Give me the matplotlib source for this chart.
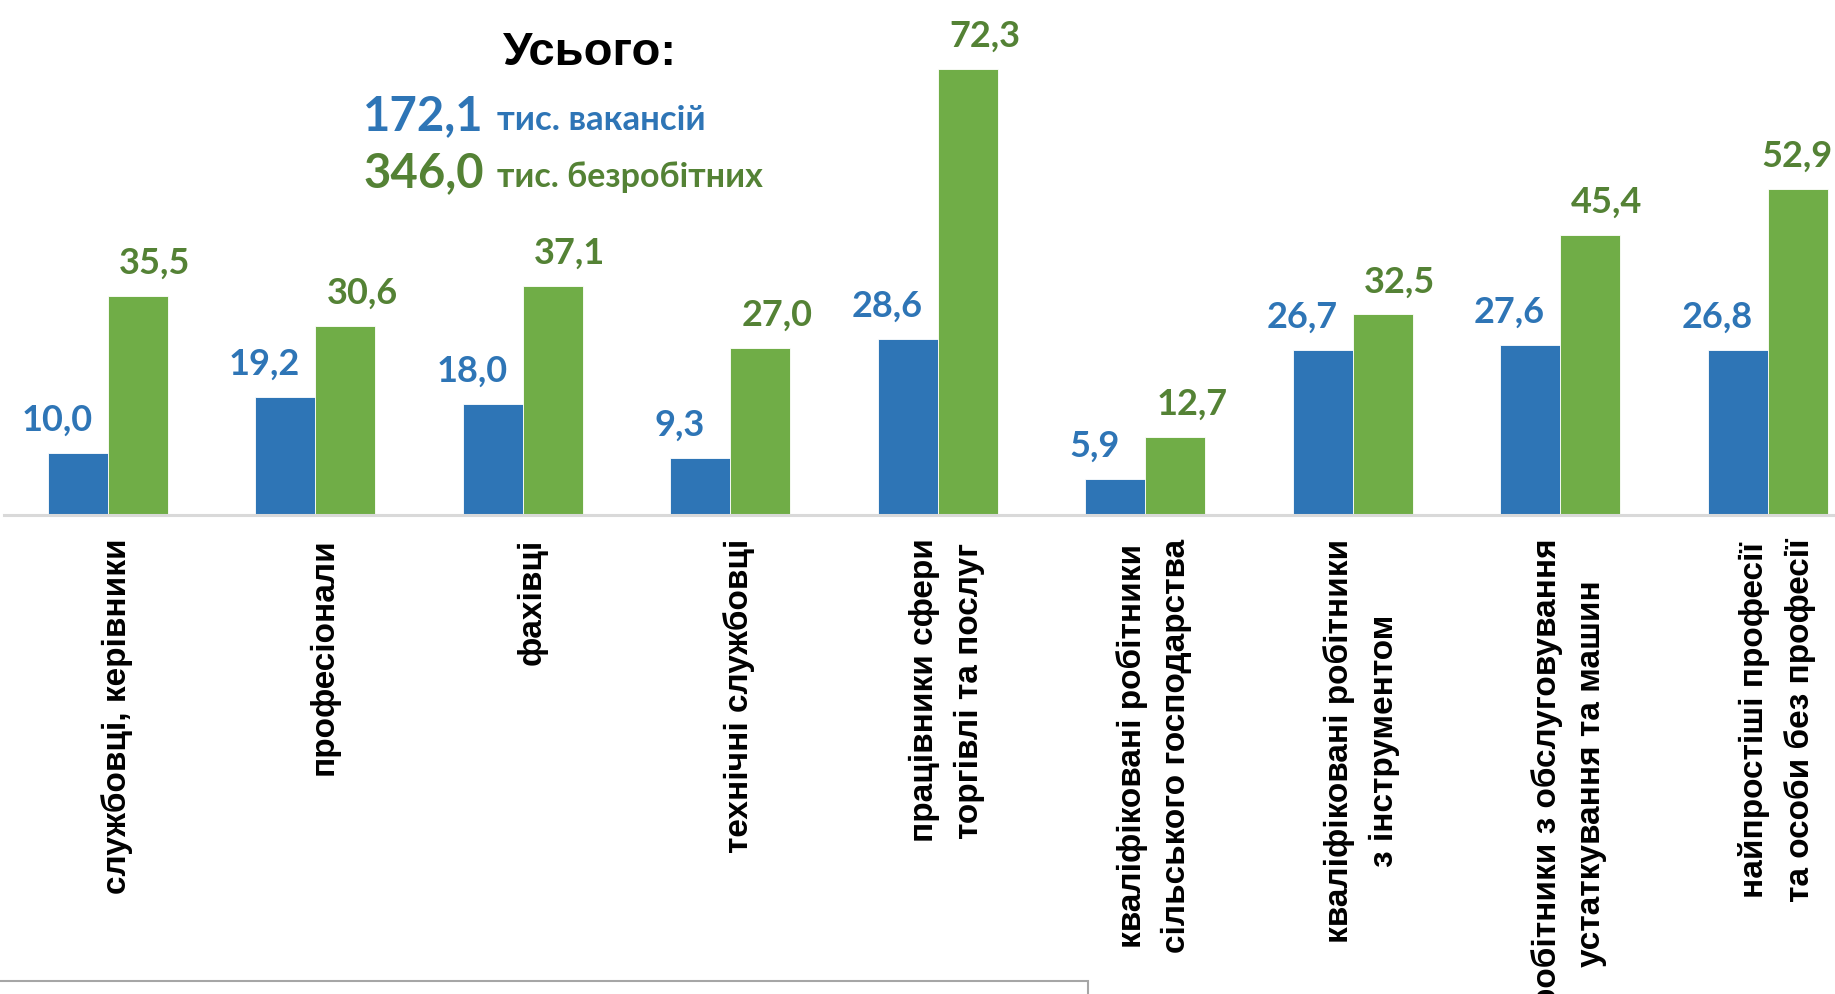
import matplotlib.pyplot as plt
import matplotlib.transforms as mtransforms
import numpy as np
from matplotlib.patches import Rectangle

# categories (professional groups) and values, thousand persons
categories = ["службовці, керівники", "професіонали", "фахівці", "технічні службовці",
              "працівники сфери\nторгівлі та послуг",
              "кваліфіковані робітники\nсільського господарства",
              "кваліфіковані робітники\nз інструментом",
              "робітники з обслуговування\nустаткування та машин",
              "найпростіші професії\nта особи без професії"]
vacancies = [10.0, 19.2, 18.0, 9.3, 28.6, 5.9, 26.7, 27.6, 26.8]
unemployed = [35.5, 30.6, 37.1, 27.0, 72.3, 12.7, 32.5, 45.4, 52.9]
total_title = "Усього:"
total_vac = "172,1"
total_unemp = "346,0"
vac_text = "тис. вакансій"
unemp_text = "тис. безробітних"

blue = "#2E75B6"
green = "#70AD47"
green_txt = "#548235"
num_font = ["Lato", "Noto Sans", "DejaVu Sans"]
lab_font = ["Liberation Sans", "DejaVu Sans"]

W, H = 1835, 994
fig = plt.figure(figsize=(W / 100, H / 100), dpi=100)
ax = fig.add_axes([4 / W, (H - 515) / H, 9 * 207.5 / W, 80 * 6.17 / H])

x = np.arange(len(categories))
w = 0.29
ax.bar(x - w / 2, vacancies, w, color=blue, edgecolor="white", linewidth=0.6)
ax.bar(x + w / 2, unemployed, w, color=green, edgecolor="white", linewidth=0.6)

ax.set_xlim(-0.5, len(categories) - 0.5)
ax.set_ylim(0, 80)
ax.set_yticks([])
for s in ["top", "left", "right"]:
    ax.spines[s].set_visible(False)
ax.spines["bottom"].set_color("#d9d9d9")
ax.spines["bottom"].set_linewidth(2.2)

ax.set_xticks(x)
ax.set_xticklabels(categories, rotation=90, fontsize=24, fontweight="bold",
                   family=lab_font, linespacing=1.55)
ax.tick_params(axis="x", length=0, pad=17)
# nudge the rotated labels a little to the right
shift = mtransforms.ScaledTranslation(9 / 100, 0, fig.dpi_scale_trans)
for lab in ax.get_xticklabels():
    lab.set_multialignment("center")
    lab.set_transform(lab.get_transform() + shift)


def fmt(v):
    return f"{v:.1f}".replace(".", ",")


labels = []
for xi, v in zip(x, vacancies):
    labels.append(ax.annotate(fmt(v), (xi - w / 2, v), xytext=(-15, 16),
                              textcoords="offset points", ha="center", va="baseline",
                              fontsize=26, fontweight="bold", color=blue, family=num_font))
for xi, v in zip(x, unemployed):
    labels.append(ax.annotate(fmt(v), (xi + w / 2, v), xytext=(12, 16),
                              textcoords="offset points", ha="center", va="baseline",
                              fontsize=26, fontweight="bold", color=green_txt,
                              family=num_font, annotation_clip=False))

# header with totals
fig.text(590 / W, 1 - 65 / H, total_title, ha="center", va="baseline", fontsize=34,
         fontweight="bold", family=lab_font, color="black")
fig.text(363 / W, 1 - 130 / H, total_vac, ha="left", va="baseline", fontsize=34,
         fontweight="bold", family=num_font, color=blue)
fig.text(497 / W, 1 - 130 / H, vac_text, ha="left", va="baseline", fontsize=25,
         fontweight="bold", family=num_font, color=blue)
fig.text(363 / W, 1 - 187 / H, total_unemp, ha="left", va="baseline", fontsize=34,
         fontweight="bold", family=num_font, color=green_txt)
fig.text(497 / W, 1 - 187 / H, unemp_text, ha="left", va="baseline", fontsize=24.5,
         fontweight="bold", family=num_font, color=green_txt)

# frame of the box below the chart
fig.patches.append(Rectangle((-10 / W, -10 / H), 1098 / W, (H - 981 + 10) / H,
                             transform=fig.transFigure, fill=False,
                             edgecolor="#a6a6a6", linewidth=1.5))

# keep value labels inside the figure
fig.canvas.draw()
for t in labels:
    bb = t.get_window_extent()
    if bb.x1 > W - 2:
        dx, dy = t.xyann
        t.xyann = (dx - (bb.x1 - W + 2) * 72 / 100, dy)

fig.savefig("out.png", dpi=100)
